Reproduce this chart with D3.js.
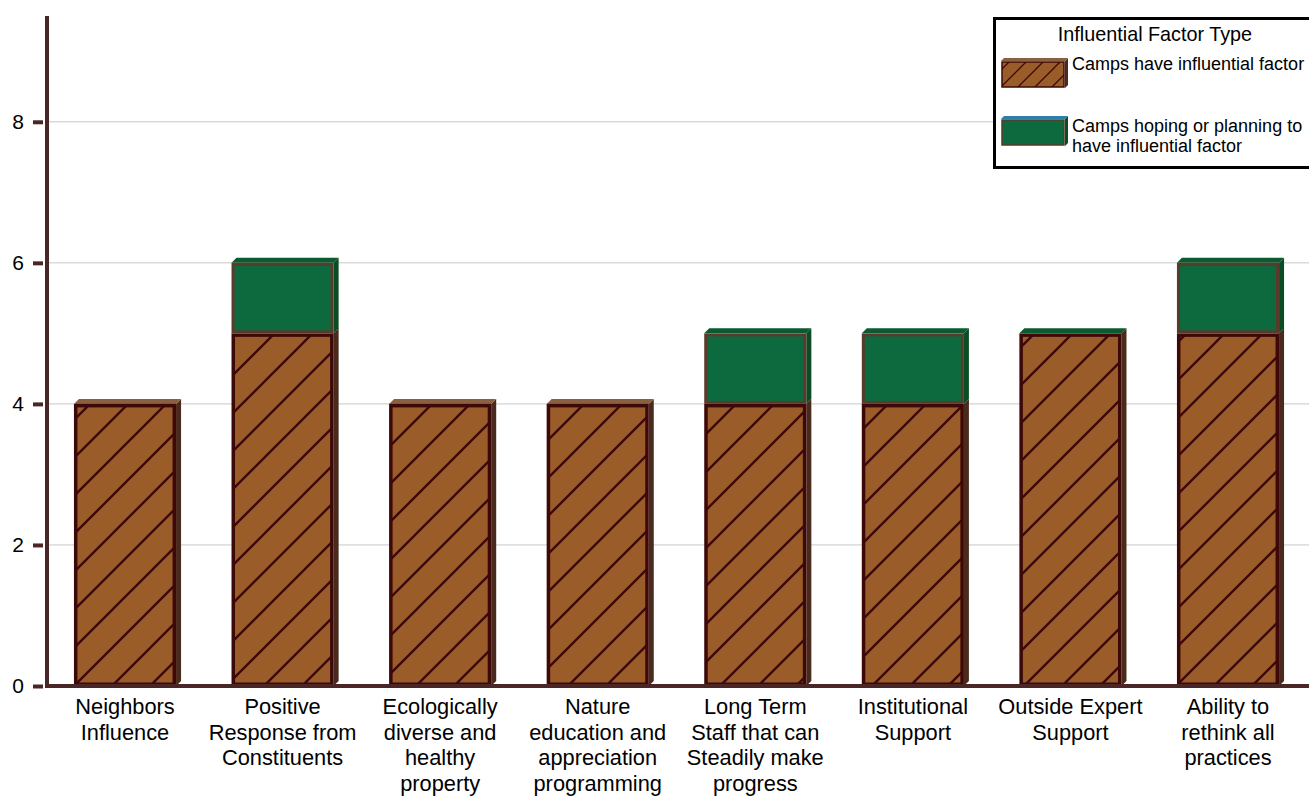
<!DOCTYPE html>
<html>
<head>
<meta charset="utf-8">
<script src="https://cdn.jsdelivr.net/npm/d3@7"></script>
<style>
  html, body { margin: 0; padding: 0; background: #fff; }
  svg { display: block; font-family: "Liberation Sans", Arial, Helvetica, sans-serif; }
</style>
</head>
<body>
<svg id="chart" width="1309" height="796"></svg>
<script>
// Factor categories (label lines)
const categories = [
  ["Neighbors", "Influence"],
  ["Positive", "Response from", "Constituents"],
  ["Ecologically", "diverse and", "healthy", "property"],
  ["Nature", "education and", "appreciation", "programming"],
  ["Long Term", "Staff that can", "Steadily make", "progress"],
  ["Institutional", "Support"],
  ["Outside Expert", "Support"],
  ["Ability to", "rethink all", "practices"]
];
// Camps that have the factor
const haveValues = [4, 5, 4, 4, 4, 4, 5, 5];
// Camps hoping / planning to have it (null = no segment)
const hopingValues = [null, 1, null, null, 1, 1, 0, 1];
const yTicks = [0, 2, 4, 6, 8];
const legendTitle = "Influential Factor Type";
const legendItems = [
  ["Camps have influential factor"],
  ["Camps hoping or planning to", "have influential factor"]
];

const svg = d3.select("#chart");
const W = 1309;
const axisX = 47, baseY = 686;

const x = d3.scaleBand()
  .domain(d3.range(categories.length))
  .range([axisX, 1306])
  .paddingInner(0.352)
  .paddingOuter(0.171);

const y = d3.scaleLinear().domain([0, 9.5]).range([baseY, 16]);

// hatch patterns: large for bars, small for legend swatch
const defs = svg.append("defs");
function hatch(id, P, w) {
  const pat = defs.append("pattern")
    .attr("id", id)
    .attr("patternUnits", "userSpaceOnUse")
    .attr("width", P).attr("height", P);
  pat.append("rect").attr("width", P).attr("height", P).attr("fill", "#9a5c28");
  pat.append("path")
    .attr("d", `M-10,10 L10,-10 M0,${P} L${P},0 M${P - 10},${P + 10} L${P + 10},${P - 10}`)
    .attr("stroke", "#3d0808").attr("stroke-width", w);
}
hatch("hatch", 38, 2.4);
hatch("hatchSmall", 17, 1.3);

// gridlines
svg.append("g").selectAll("line")
  .data(yTicks.filter(d => d > 0))
  .join("line")
  .attr("x1", axisX).attr("x2", W)
  .attr("y1", d => y(d)).attr("y2", d => y(d))
  .attr("stroke", "#c8c8c8").attr("stroke-width", 1);

const dx = 5, dy = 5;
const styles = {
  have: { fill: "url(#hatch)", stroke: "#3d0808", sw: 3.5, top: "#8a6040", side: "#4a2a1c" },
  hope: { fill: "#0c6a3e", stroke: "#5a3a2a", sw: 3, top: "#0b5a30", side: "#0a4d24" }
};

const bars = svg.append("g");
categories.forEach((c, i) => {
  const x0 = x(i), bw = x.bandwidth();
  const segs = [{ key: "have", lo: 0, hi: haveValues[i] }];
  if (hopingValues[i] !== null) {
    segs.push({ key: "hope", lo: haveValues[i], hi: haveValues[i] + hopingValues[i] });
  }
  segs.forEach((s, k) => {
    const st = styles[s.key];
    const yt = y(s.hi), yb = y(s.lo);
    // side face
    if (yb - yt > 0) {
      bars.append("path")
        .attr("d", `M${x0 + bw},${yt} L${x0 + bw + dx},${yt - dy} L${x0 + bw + dx},${yb - dy} L${x0 + bw},${yb} Z`)
        .attr("fill", st.side);
    }
    // top face only on the topmost segment
    if (k === segs.length - 1) {
      bars.append("path")
        .attr("d", `M${x0},${yt} L${x0 + dx},${yt - dy} L${x0 + bw + dx},${yt - dy} L${x0 + bw},${yt} Z`)
        .attr("fill", st.top);
    }
    if (yb - yt > 0) {
      bars.append("rect")
        .attr("x", x0 + st.sw / 2).attr("y", yt + st.sw / 2)
        .attr("width", bw - st.sw).attr("height", yb - yt - st.sw)
        .attr("fill", st.fill)
        .attr("stroke", st.stroke).attr("stroke-width", st.sw);
    }
  });
});

// axes
svg.append("line")
  .attr("x1", axisX).attr("x2", W).attr("y1", baseY).attr("y2", baseY)
  .attr("stroke", "#4a2626").attr("stroke-width", 4);
svg.append("line")
  .attr("x1", axisX).attr("x2", axisX).attr("y1", 16).attr("y2", baseY + 2)
  .attr("stroke", "#4a2626").attr("stroke-width", 4);

const yAxis = d3.axisLeft(y).tickValues(yTicks).tickSize(10).tickPadding(9);
const ya = svg.append("g").attr("transform", `translate(${axisX - 4},0)`).call(yAxis);
ya.select(".domain").remove();
ya.selectAll(".tick line").attr("stroke", "#4a2626").attr("stroke-width", 4);
ya.selectAll(".tick text").attr("font-size", 21).attr("fill", "#000")
  .attr("font-family", "Liberation Sans, Arial, sans-serif");

// category labels
const lab = svg.append("g");
categories.forEach((lines, i) => {
  const cx = x(i) + x.bandwidth() / 2;
  const t = lab.append("text").attr("text-anchor", "middle")
    .attr("font-size", 21.8).attr("fill", "#000");
  lines.forEach((ln, j) => {
    t.append("tspan").attr("x", cx).attr("y", 714 + j * 25.7).text(ln);
  });
});

// legend
const lg = svg.append("g");
lg.append("rect").attr("x", 994.5).attr("y", 18.5).attr("width", 330).attr("height", 149)
  .attr("fill", "#fff").attr("stroke", "#000").attr("stroke-width", 3);
lg.append("text").attr("x", 1155).attr("y", 41).attr("text-anchor", "middle")
  .attr("font-size", 19.8).attr("fill", "#000").text(legendTitle);
const sw = [
  { y: 58, st: styles.have, fill: "url(#hatchSmall)", top: "#8a6040" },
  { y: 116, st: styles.hope, fill: styles.hope.fill, top: "#2f7fa6" }
];
sw.forEach((s, i) => {
  const x0 = 1001, w = 64, h = 30, d = 3;
  lg.append("path")
    .attr("d", `M${x0 + w},${s.y + d} L${x0 + w + d},${s.y} L${x0 + w + d},${s.y + h - d} L${x0 + w},${s.y + h} Z`)
    .attr("fill", s.st.side);
  lg.append("path")
    .attr("d", `M${x0},${s.y + d} L${x0 + d},${s.y} L${x0 + w + d},${s.y} L${x0 + w},${s.y + d} Z`)
    .attr("fill", s.top);
  lg.append("rect").attr("x", x0 + 1).attr("y", s.y + d + 1).attr("width", w - 2).attr("height", h - d - 2)
    .attr("fill", s.fill).attr("stroke", s.st.stroke).attr("stroke-width", 1.5);
  const t = lg.append("text").attr("font-size", 18).attr("fill", "#000");
  legendItems[i].forEach((ln, j) => {
    t.append("tspan").attr("x", 1072).attr("y", (i === 0 ? 70 : 132) + j * 20).text(ln);
  });
});
</script>
</body>
</html>
